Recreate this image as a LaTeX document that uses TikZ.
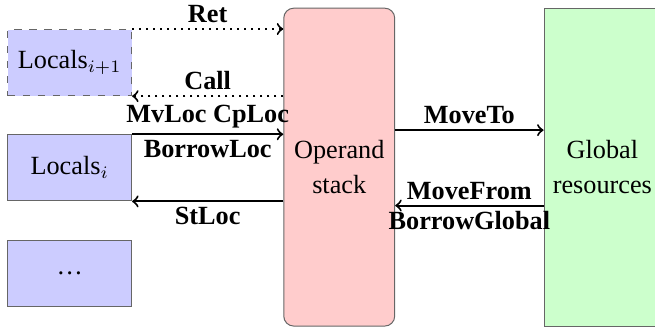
\documentclass[tikz,border=0pt]{standalone}
\usepackage{amsmath}
\usepackage{fontspec}
\setmainfont{Liberation Serif}
\usepackage{tikz}
\usepackage{xcolor}
\tikzset{
    local-box/.style = {draw=black!60, fill=blue!20, thin, rectangle, minimum width=1.74cm, minimum height=0.93cm, inner sep=0pt},
    stack-box/.style = {draw=black!60, fill=red!20, thin, rectangle, rounded corners, minimum width=1.56cm, minimum height=4.47cm, align=center},
    global-box/.style = {draw=black!60, fill=green!20, thin, rectangle, minimum width=1.56cm, minimum height=4.47cm, align=center},
    flow-label/.style = {font=\bfseries, inner sep=2pt},
}

\begin{document}
\fontsize{10.5pt}{12.6pt}\selectfont
\begin{tikzpicture}
\useasboundingbox (0,0) rectangle (9.21,4.68);
\node [local-box, dashed] (loc-next) at (0.98,3.80) {Locals$_{i+1}$};
\node [local-box] (loc-cur) at (0.98,2.32) {Locals$_i$};
\node [local-box] (loc-rest) at (0.98,0.84) {\dots};
\node [stack-box] (stack) at (4.77,2.33) {Operand\\[1.5pt]stack};
\node [global-box] (global) at (8.47,2.33) {Global\\[1.5pt]resources};

\draw [->, thick, dotted] (loc-next.north east) -- (loc-next.north east -| stack.west)
    node [flow-label, midway, above] {Ret};
\draw [->, thick, dotted] (loc-next.south east -| stack.west) -- (loc-next.south east)
    node [flow-label, midway, above] {Call};
\draw [->, thick] (loc-cur.north east) -- (loc-cur.north east -| stack.west)
    node [flow-label, midway, above] {MvLoc CpLoc}
    node [flow-label, midway, below] {BorrowLoc};
\draw [->, thick] (loc-cur.south east -| stack.west) -- (loc-cur.south east)
    node [flow-label, midway, below] {StLoc};
\draw [->, thick] ([yshift=0.52cm]stack.east) -- ([yshift=0.52cm]stack.east -| global.west)
    node [flow-label, midway, above] {MoveTo};
\draw [->, thick] ([yshift=-0.54cm]stack.east -| global.west) -- ([yshift=-0.54cm]stack.east)
    node [flow-label, midway, above] {MoveFrom}
    node [flow-label, midway, below] {BorrowGlobal};
\end{tikzpicture}
\end{document}
